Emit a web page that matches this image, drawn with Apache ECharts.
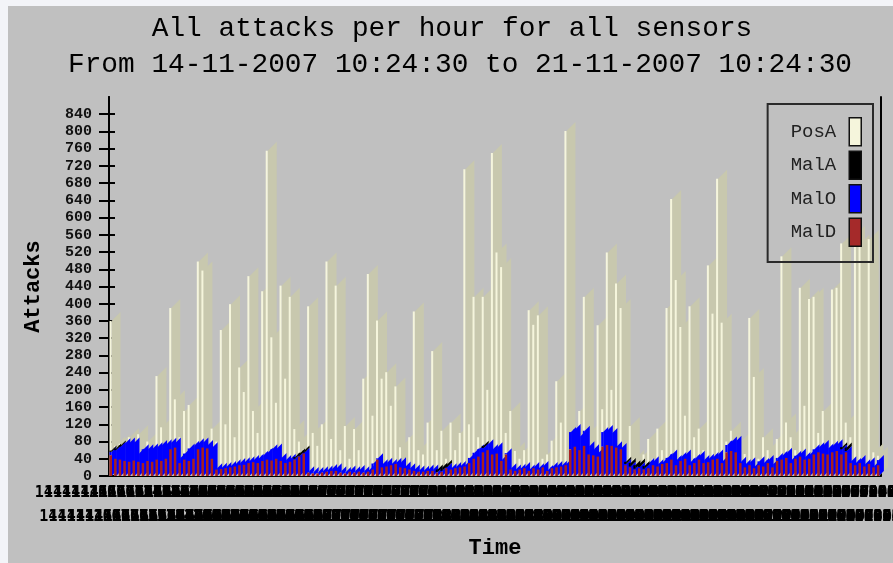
<!DOCTYPE html>
<html><head><meta charset="utf-8">
<script src="https://cdn.jsdelivr.net/npm/echarts@6/dist/echarts.min.js"></script>
<style>html,body{margin:0;padding:0;background:#f3f4f8}#c{width:893px;height:563px}</style>
</head><body><div id="c"></div>
<script>
// ---- data ----
const seriesNames = ['PosA', 'MalA', 'MalO', 'MalD'];
const posA = [
360,70,75,50,90,60,97,40,80,60,
232,113,60,390,178,90,151,165,70,498,
477,60,110,80,339,120,399,90,252,195,
464,151,100,429,755,322,170,442,226,416,
109,80,62,394,100,70,120,498,86,442,
60,116,40,109,60,226,469,140,361,226,
241,163,208,67,40,90,382,60,50,124,
290,60,105,40,124,60,100,712,120,416,
90,416,200,750,519,485,100,151,58,40,
60,385,351,373,40,50,82,220,124,801,
80,60,151,416,100,60,350,155,519,200,
447,390,60,116,40,30,50,86,40,110,
60,390,643,455,346,140,394,90,110,60,
489,377,690,356,80,105,60,80,51,367,
230,40,90,60,40,86,510,124,90,60,
437,163,411,416,100,151,60,433,437,540,
124,90,560,540,45,550,55,47];
const malD = [
48,40,38,35,33,36,33,30,35,33,
38,35,40,62,66,30,38,35,40,62,
66,64,40,15,16,18,20,22,25,26,
30,32,30,35,38,36,40,35,30,33,
38,45,52,8,6,6,8,10,12,12,
8,6,10,8,10,8,10,15,38,20,
22,25,28,20,18,15,12,10,10,12,
12,8,10,18,15,18,20,22,30,40,
45,55,60,50,52,35,50,15,12,15,
18,12,18,15,20,12,18,20,22,25,
62,68,60,70,50,48,45,68,72,70,
66,62,25,20,15,18,15,18,25,22,
28,30,38,25,35,40,25,30,38,30,
32,38,40,30,55,58,55,30,20,25,
18,25,22,30,20,35,38,42,30,40,
45,38,40,50,55,52,50,55,58,50,
55,30,25,30,22,28,20,25];
const malO = [
8,20,30,41,45,42,19,32,27,31,
29,37,34,15,12,12,14,29,30,14,
12,8,27,3,3,3,3,5,5,6,
4,5,10,12,16,26,24,7,7,7,
2,2,2,3,3,3,3,3,4,6,
3,3,3,3,4,3,3,14,3,7,
9,3,3,12,4,3,3,3,2,3,
3,1,2,2,3,3,3,3,12,14,
17,10,14,12,15,3,3,3,3,2,
3,3,3,3,3,2,3,3,2,3,
40,41,32,35,19,14,9,34,35,30,
3,3,3,2,2,3,2,12,9,5,
4,12,12,12,9,10,7,10,9,7,
8,6,10,4,17,22,27,3,7,7,
4,9,8,7,7,7,9,12,7,7,
7,6,10,12,12,20,14,15,16,12,
3,4,5,7,5,4,3,12];
const malA = [
3,4,3,0,0,0,0,0,0,0,
0,0,0,0,0,0,0,0,0,0,
0,0,0,0,0,0,0,0,0,0,
0,0,0,0,0,0,0,0,0,0,
4,5,5,0,0,0,0,0,0,0,
0,0,0,0,0,0,0,0,0,0,
0,0,0,0,0,0,0,0,0,0,
0,6,8,6,0,0,0,0,0,0,
0,5,0,0,0,0,0,0,0,0,
0,0,0,0,0,0,0,0,0,0,
0,0,0,0,0,0,0,0,0,0,
0,0,5,8,8,8,6,0,0,0,
0,0,0,0,0,0,0,0,0,0,
0,0,0,0,0,0,0,0,0,0,
0,0,0,0,0,0,0,0,0,0,
0,0,0,0,0,0,0,0,0,5,
8,0,0,0,0,0,0,0];
const yTicks = [0,40,80,120,160,200,240,280,320,360,400,440,480,520,560,600,640,680,720,760,800,840];
const titleLines = ['All attacks per hour for all sensors', 'From 14-11-2007 10:24:30 to 21-11-2007 10:24:30'];

// hourly category labels
const categories = [];
(function () {
  const p = n => (n < 10 ? '0' : '') + n;
  const t0 = Date.UTC(2007, 10, 14, 10, 24, 30);
  for (let h = 0; h < posA.length; h++) {
    const d = new Date(t0 + h * 3600000);
    categories.push(p(d.getUTCDate()) + '-' + p(d.getUTCMonth() + 1) + '-' + d.getUTCFullYear() + ' ' +
      p(d.getUTCHours()) + ':' + p(d.getUTCMinutes()) + ':' + p(d.getUTCSeconds()));
  }
})();

// ---- build series tables ----
const posData = posA.map((v, i) => [i, 0, v, 0]);
const dData = malD.map((v, i) => [i, 0, v, 0]);
const oData = malO.map((v, i) => [i, malD[i], malD[i] + v, 0]);
const aData = malA.map((v, i) => [i, malD[i] + malO[i], malD[i] + malO[i] + v, malD[i] + malO[i]]);

function bar3d(front, side, fw, d) {
  return function (params, api) {
    const i = api.value(0), lo = api.value(1), hi = api.value(2), sLo = api.value(3);
    if (!(hi > lo)) return { type: 'group', children: [] };
    const band = api.size([1, 0])[0];
    const a = api.coord([i, lo]), b = api.coord([i, hi]), s = api.coord([i, sLo]);
    const fl = a[0] - band / 2 + 0.5;
    const kids = [];
    if (side) {
      kids.push({ type: 'polygon', shape: { points: [[fl + fw, s[1]], [fl + fw, b[1]], [fl + fw + d, b[1] - d], [fl + fw + d, s[1] - d]] },
        style: { fill: side } });
    }
    kids.push({ type: 'rect', shape: { x: fl, y: b[1], width: fw, height: a[1] - b[1] }, style: { fill: front } });
    return { type: 'group', children: kids };
  };
}

const mono = '"Liberation Mono", "DejaVu Sans Mono", monospace';
const xLabelStyle = { margin: 10, color: '#000', fontFamily: '"DejaVu Sans Mono", monospace', fontWeight: 'bold', fontSize: 15 };
const chart = echarts.init(document.getElementById('c'), null, { renderer: 'canvas' });
chart.setOption({
  backgroundColor: '#f3f4f8',
  animation: false,
  graphic: [
    { type: 'rect', z: -10, shape: { x: 8, y: 6, width: 885, height: 557 }, style: { fill: '#c0c0c0' } },
    { type: 'text', x: 452, y: 29, style: { text: titleLines[0], align: 'center', verticalAlign: 'middle', font: '27.8px ' + mono, fill: '#000' } },
    { type: 'text', x: 460, y: 65, style: { text: titleLines[1], align: 'center', verticalAlign: 'middle', font: '27.8px ' + mono, fill: '#000' } }
  ],
  grid: { left: 109, right: 12, top: 97, bottom: 87, containLabel: false, outerBoundsMode: 'none' },
  legend: {
    orient: 'vertical', right: 20, top: 104, align: 'right',
    padding: [13, 11, 15, 23], itemGap: 4, itemWidth: 12, itemHeight: 28,
    borderColor: '#2a2a2a', borderWidth: 2,
    icon: 'rect',
    itemStyle: { borderColor: '#111', borderWidth: 1.5 },
    textStyle: { fontFamily: mono, fontSize: 19, color: '#222', padding: [0, 8, 0, 0] },
    data: seriesNames
  },
  xAxis: [
    {
      type: 'category', data: categories, position: 'bottom', boundaryGap: true,
      axisLine: { show: true, lineStyle: { color: '#000', width: 1 } },
      axisTick: { show: false },
      axisLabel: Object.assign({ interval: (idx) => idx % 2 === 0 }, xLabelStyle),
      name: 'Time', nameLocation: 'middle', nameGap: 61,
      nameTextStyle: { fontFamily: mono, fontWeight: 'bold', fontSize: 22, color: '#000' }
    },
    {
      type: 'category', data: categories, position: 'bottom', offset: 24, boundaryGap: true,
      axisLine: { show: false }, axisTick: { show: false },
      axisLabel: Object.assign({ interval: (idx) => idx % 2 === 1 }, xLabelStyle)
    }
  ],
  yAxis: [
    {
      type: 'value', position: 'left', min: 0, max: 880, interval: 40,
      axisLine: { show: true, lineStyle: { color: '#000', width: 2 } },
      axisTick: { show: true, length: 10, customValues: yTicks, lineStyle: { color: '#000', width: 2 } },
      axisLabel: { customValues: yTicks, margin: 17, color: '#111', fontFamily: mono, fontWeight: 'bold', fontSize: 15 },
      splitLine: { show: false },
      name: 'Attacks', nameLocation: 'middle', nameGap: 65,
      nameTextStyle: { fontFamily: mono, fontWeight: 'bold', fontSize: 22, color: '#000' }
    },
    {
      type: 'value', position: 'left', min: 0, max: 880, interval: 40,
      axisLine: { show: true, lineStyle: { color: '#000', width: 2 } },
      axisTick: { show: true, inside: true, length: 6, customValues: yTicks, lineStyle: { color: '#000', width: 2 } },
      axisLabel: { show: false }, splitLine: { show: false }
    },
    {
      type: 'value', position: 'right', min: 0, max: 880,
      axisLine: { show: true, lineStyle: { color: '#000', width: 2 } },
      axisTick: { show: false }, axisLabel: { show: false }, splitLine: { show: false }
    }
  ],
  series: [
    { name: 'PosA', type: 'custom', z: 2, data: posData, itemStyle: { color: '#f5f5dc' }, renderItem: bar3d('#f5f5dc', '#c8c8ae', 2, 9) },
    { name: 'MalA', type: 'custom', z: 5, data: aData, itemStyle: { color: '#000000' }, renderItem: bar3d('#000000', '#000000', 2, 5) },
    { name: 'MalO', type: 'custom', z: 4, data: oData, itemStyle: { color: '#0000ff' }, renderItem: bar3d('#0000ff', '#0000ff', 2, 5) },
    { name: 'MalD', type: 'custom', z: 6, data: dData, itemStyle: { color: '#a52a2a' }, renderItem: bar3d('#a82020', null, 2.5, 0) }
  ]
});
</script></body></html>
